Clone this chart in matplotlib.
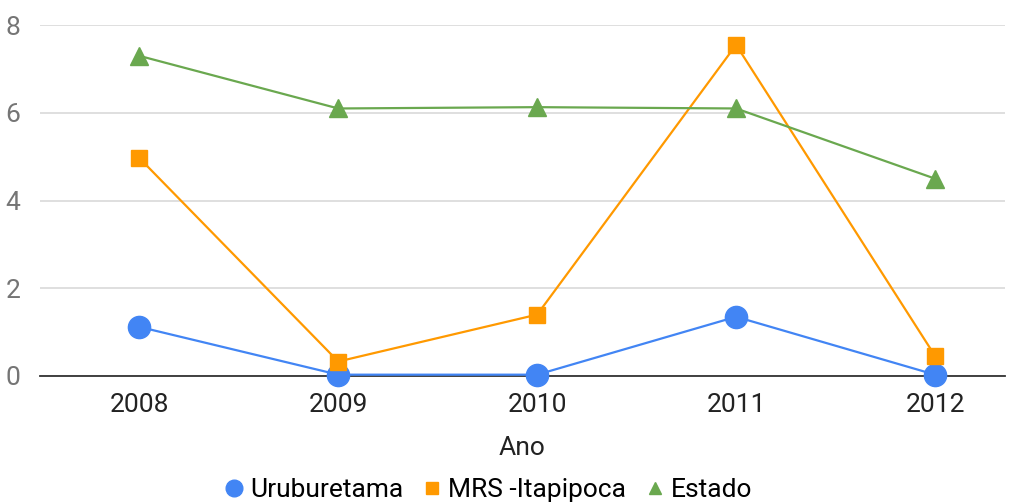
import matplotlib.pyplot as plt
from matplotlib.lines import Line2D

plt.rcParams['font.family'] = ['Roboto', 'DejaVu Sans']

anos = ['2008', '2009', '2010', '2011', '2012']
uruburetama = [1.12, 0.03, 0.03, 1.35, 0.03]
mrs_itapipoca = [4.97, 0.33, 1.40, 7.55, 0.46]
estado = [7.30, 6.10, 6.13, 6.10, 4.50]

azul = '#4285f4'
laranja = '#ff9900'
verde = '#6aa84f'

fig = plt.figure(figsize=(10.22, 5.03), dpi=100)
ax = fig.add_axes([0.039, 0.2525, 0.944, 0.6975])

x = range(len(anos))
ax.plot(x, uruburetama, color=azul, lw=1.6, marker='o', ms=16, clip_on=False, zorder=3)
ax.plot(x, mrs_itapipoca, color=laranja, lw=1.6, marker='s', ms=11.5, clip_on=False, zorder=3)
ax.plot(x, estado, color=verde, lw=1.6, marker='^', ms=13, clip_on=False, zorder=3)

ax.set_xlim(-0.5, 4.35)
ax.set_ylim(0, 8)
ax.set_yticks([0, 2, 4, 6, 8])
ax.set_xticks(list(x))
ax.set_xticklabels(anos)
ax.grid(axis='y', color='#d9d9d9', lw=1.2)
ax.set_axisbelow(True)
for s in ['top', 'right', 'left']:
    ax.spines[s].set_visible(False)
ax.spines['bottom'].set_color('#333333')
ax.spines['bottom'].set_linewidth(1.3)
ax.tick_params(axis='y', length=0, labelsize=19, labelcolor='#757575', pad=14)
ax.tick_params(axis='x', length=0, labelsize=19, labelcolor='#222222', pad=12)
ax.set_xlabel('Ano', fontsize=19, color='#222222', labelpad=14)

handles = [
    Line2D([], [], color=azul, marker='o', ls='none', ms=12),
    Line2D([], [], color=laranja, marker='s', ls='none', ms=8),
    Line2D([], [], color=verde, marker='^', ls='none', ms=9),
]
fig.legend(handles, ['Uruburetama', 'MRS -Itapipoca', 'Estado'], loc='center',
           bbox_to_anchor=(0.475, 0.025), ncol=3, frameon=False, fontsize=19,
           handletextpad=0.0, columnspacing=0.5, handlelength=1.2)

fig.savefig('out.png', dpi=100)
